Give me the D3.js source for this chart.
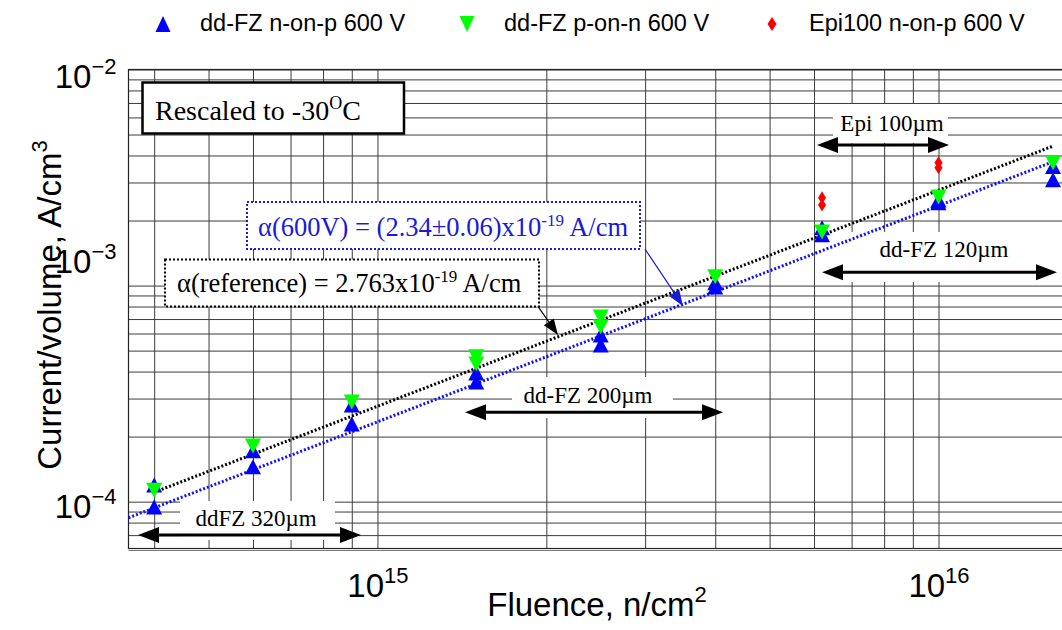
<!DOCTYPE html>
<html><head><meta charset="utf-8">
<script src="https://cdn.jsdelivr.net/npm/d3@7"></script>
<style>
html,body{margin:0;padding:0;background:#fff;}
svg{display:block;}
</style></head><body>
<svg id="chart" width="1062" height="630"></svg>
<script>
// ---------------- data ----------------
const seriesNames = ["dd-FZ n-on-p 600 V", "dd-FZ p-on-n 600 V", "Epi100 n-on-p 600 V"];

const nonpFluence = [4e14, 4e14, 6e14, 6e14, 9e14, 9e14, 1.5e15, 1.5e15, 2.5e15, 2.5e15, 4e15, 4e15, 6.2e15, 6.2e15, 1e16, 1e16, 1.6e16, 1.6e16];
const nonpCurrent = [1.195e-4, 9.45e-5, 1.72e-4, 1.45e-4, 2.80e-4, 2.29e-4, 3.94e-4, 3.58e-4, 5.91e-4, 5.31e-4, 1.03e-3, 9.86e-4, 1.85e-3, 1.72e-3, 2.49e-3, 2.42e-3, 3.56e-3, 3.09e-3];

const ponnFluence = [4e14, 6e14, 9e14, 1.5e15, 1.5e15, 2.5e15, 2.5e15, 4e15, 6.2e15, 1e16, 1.6e16];
const ponnCurrent = [1.13e-4, 1.81e-4, 2.89e-4, 4.68e-4, 4.34e-4, 7.16e-4, 6.44e-4, 1.10e-3, 1.77e-3, 2.57e-3, 3.70e-3];

const epiFluence = [6.2e15, 6.2e15, 1e16, 1e16];
const epiCurrent = [2.55e-3, 2.36e-3, 3.70e-3, 3.51e-3];

// fit lines: I/V = alpha * fluence
const alpha600 = 2.34e-19;
const alphaRef = 2.763e-19;
const fit600Range = [3.6e14, 1.6e16];
const fitRefRange = [4e14, 1.6e16];

const xTickValues = [1e15, 1e16];
const xTickExp = ["15", "16"];
const yTickValues = [1e-2, 1e-3, 1e-4];
const yTickExp = ["\u22122", "\u22123", "\u22124"];

const xDomain = [3.6e14, 1.66e16];
const yDomain = [6.07e-5, 1e-2];

// ---------------- layout ----------------
const W = 1062, H = 630;
const L = 128.5, R = 1062, T = 69.5, B = 548.5;
const SANS = "'Liberation Sans', Arial, Helvetica, sans-serif";
const SERIF = "'Liberation Serif', 'Times New Roman', serif";

const svg = d3.select("#chart");
const x = d3.scaleLog().domain(xDomain).range([L, R]);
const y = d3.scaleLog().domain(yDomain).range([B, T]);

// gridlines
const gridColor = "#3c3c3c";
const xGridVals = x.ticks().filter(v => v >= xDomain[0] && v <= xDomain[1]);
const yGridVals = y.ticks().filter(v => v >= yDomain[0] && v <= yDomain[1]);

const gx = svg.append("g").attr("transform", `translate(0,${B})`)
  .call(d3.axisBottom(x).tickValues(xGridVals).tickSize(-(B - T)).tickFormat(""));
gx.select(".domain").remove();
gx.selectAll(".tick line").attr("stroke", gridColor).attr("stroke-width", 1);

const gy = svg.append("g").attr("transform", `translate(${L},0)`)
  .call(d3.axisLeft(y).tickValues(yGridVals).tickSize(-(R - L)).tickFormat(""));
gy.select(".domain").remove();
gy.selectAll(".tick line").attr("stroke", gridColor).attr("stroke-width", 1);

// frame
svg.append("rect").attr("x", L).attr("y", T).attr("width", R - L + 5).attr("height", B - T)
  .attr("fill", "none").attr("stroke", "#222").attr("stroke-width", 1.2);
svg.append("line").attr("x1", L).attr("x2", R).attr("y1", B + 2).attr("y2", B + 2)
  .attr("stroke", "#777").attr("stroke-width", 1);

// white label backgrounds (cover grid)
const bgRects = [
  [833, 104, 115, 39],
  [836, 232, 222, 50],
  [512, 377, 161, 41],
  [180, 501, 155, 39]
];
svg.append("g").selectAll("rect").data(bgRects).join("rect")
  .attr("x", d => d[0]).attr("y", d => d[1]).attr("width", d => d[2]).attr("height", d => d[3])
  .attr("fill", "#fff");

// fit lines
const line = d3.line().x(d => x(d[0])).y(d => y(d[1]));
svg.append("path").datum(fitRefRange.map(f => [f, alphaRef * f]))
  .attr("d", line).attr("fill", "none").attr("stroke", "#000")
  .attr("stroke-width", 3).attr("stroke-dasharray", "2,2");
svg.append("path").datum(fit600Range.map(f => [f, alpha600 * f]))
  .attr("d", line).attr("fill", "none").attr("stroke", "#1010ff")
  .attr("stroke-width", 3).attr("stroke-dasharray", "2,2");

// markers
const triUp = (cx, cy, w, h) => `M${cx - w / 2},${cy + h / 2}L${cx + w / 2},${cy + h / 2}L${cx},${cy - h / 2}Z`;
const triDown = (cx, cy, w, h) => `M${cx - w / 2},${cy - h / 2}L${cx + w / 2},${cy - h / 2}L${cx},${cy + h / 2}Z`;
const diamond = (cx, cy, w, h) => `M${cx},${cy - h / 2}L${cx + w / 2},${cy}L${cx},${cy + h / 2}L${cx - w / 2},${cy}Z`;

svg.append("g").selectAll("path").data(d3.zip(nonpFluence, nonpCurrent)).join("path")
  .attr("d", d => triUp(x(d[0]), y(d[1]), 16, 15)).attr("fill", "#0000ff");
svg.append("g").selectAll("path").data(d3.zip(ponnFluence, ponnCurrent)).join("path")
  .attr("d", d => triDown(x(d[0]), y(d[1]), 16, 15)).attr("fill", "#00ff00");
svg.append("g").selectAll("path").data(d3.zip(epiFluence, epiCurrent)).join("path")
  .attr("d", d => diamond(x(d[0]), y(d[1]), 8, 13)).attr("fill", "#ff0000");

// double arrows
function dblArrow(x1, x2, yy) {
  const g = svg.append("g");
  const hl = 21, hw = 8;
  g.append("line").attr("x1", x1 + hl - 2).attr("x2", x2 - hl + 2).attr("y1", yy).attr("y2", yy)
    .attr("stroke", "#000").attr("stroke-width", 3);
  g.append("path").attr("d", `M${x1},${yy}L${x1 + hl},${yy - hw}L${x1 + hl},${yy + hw}Z`).attr("fill", "#000");
  g.append("path").attr("d", `M${x2},${yy}L${x2 - hl},${yy - hw}L${x2 - hl},${yy + hw}Z`).attr("fill", "#000");
}
dblArrow(817, 949, 145);
dblArrow(822, 1057, 272.3);
dblArrow(465, 723, 412.3);
dblArrow(138, 361, 535);

const regionLabels = [
  ["Epi 100\u00b5m", 892, 130.7],
  ["dd-FZ 120\u00b5m", 944, 256.7],
  ["dd-FZ 200\u00b5m", 588, 402.7],
  ["ddFZ 320\u00b5m", 256, 526]
];
svg.append("g").selectAll("text").data(regionLabels).join("text")
  .attr("x", d => d[1]).attr("y", d => d[2]).attr("text-anchor", "middle")
  .attr("font-family", SERIF).attr("font-size", 23).attr("fill", "#000").text(d => d[0]);

// "Rescaled" box
svg.append("rect").attr("x", 142.5).attr("y", 82.5).attr("width", 261.5).attr("height", 51)
  .attr("fill", "#fff").attr("stroke", "#000").attr("stroke-width", 2.5);
const rt = svg.append("text").attr("x", 155).attr("y", 120).attr("font-family", SERIF)
  .attr("font-size", 28).attr("fill", "#000");
rt.append("tspan").text("Rescaled to -30");
rt.append("tspan").attr("font-size", 18).attr("dy", -11).text("O");
rt.append("tspan").attr("dy", 11).text("C");

// alpha boxes
function alphaBox(bx, by, bw, bh, color, pre, sup, post, tx, ty) {
  svg.append("rect").attr("x", bx).attr("y", by).attr("width", bw).attr("height", bh)
    .attr("fill", "#fff").attr("stroke", color).attr("stroke-width", 2).attr("stroke-dasharray", "2,2");
  const t = svg.append("text").attr("x", tx).attr("y", ty).attr("font-family", SERIF)
    .attr("font-size", 26.5).attr("fill", color);
  t.append("tspan").text(pre);
  t.append("tspan").attr("font-size", 17).attr("dy", -10).text(sup);
  t.append("tspan").attr("dy", 10).text(post);
}
alphaBox(247, 202, 393, 47, "#1a1ad8", "\u03b1(600V) = (2.34\u00b10.06)x10", "-19", " A/cm", 258, 236);
alphaBox(165, 259.5, 374, 47, "#000", "\u03b1(reference) = 2.763x10", "-19", " A/cm", 177, 292);

// pointer arrows
function pointer(x1, y1, x2, y2, color) {
  const ang = Math.atan2(y2 - y1, x2 - x1);
  const hl = 16, hw = 6;
  const bx = x2 - hl * Math.cos(ang), by = y2 - hl * Math.sin(ang);
  svg.append("line").attr("x1", x1).attr("y1", y1).attr("x2", bx).attr("y2", by)
    .attr("stroke", color).attr("stroke-width", 1.2);
  const px = -Math.sin(ang) * hw, py = Math.cos(ang) * hw;
  svg.append("path").attr("d", `M${x2},${y2}L${bx + px},${by + py}L${bx - px},${by - py}Z`).attr("fill", color);
}
pointer(645, 249, 683, 306, "#1a1ad8");
pointer(538, 306.5, 558, 335, "#000");

// axes tick labels
const yAx = svg.append("g").attr("transform", `translate(${L},0)`)
  .call(d3.axisLeft(y).tickValues(yTickValues).tickSize(0).tickFormat(""));
yAx.select(".domain").remove();
const yLabelShift = [7, -24, 4.5];
yAx.selectAll(".tick").each(function (d, i) {
  const t = d3.select(this).append("text").attr("x", -12).attr("y", yLabelShift[i] + 11)
    .attr("text-anchor", "end").attr("font-family", SANS).attr("font-size", 33).attr("fill", "#000");
  t.append("tspan").text("10");
  t.append("tspan").attr("font-size", 22).attr("dy", -14).text(yTickExp[i]);
});

const xAx = svg.append("g").attr("transform", `translate(0,${B})`)
  .call(d3.axisBottom(x).tickValues(xTickValues).tickSize(0).tickFormat(""));
xAx.select(".domain").remove();
xAx.selectAll(".tick").each(function (d, i) {
  const t = d3.select(this).append("text").attr("x", 0).attr("y", 48)
    .attr("text-anchor", "middle").attr("font-family", SANS).attr("font-size", 33).attr("fill", "#000");
  t.append("tspan").text("10");
  t.append("tspan").attr("font-size", 22).attr("dy", -14).text(xTickExp[i]);
});

// axis titles
const xt = svg.append("text").attr("x", 597).attr("y", 616).attr("text-anchor", "middle")
  .attr("font-family", SANS).attr("font-size", 33).attr("fill", "#000");
xt.append("tspan").text("Fluence, n/cm");
xt.append("tspan").attr("font-size", 22).attr("dy", -14).text("2");

const ytl = svg.append("text").attr("transform", "translate(61,305) rotate(-90)").attr("text-anchor", "middle")
  .attr("font-family", SANS).attr("font-size", 33).attr("fill", "#000");
ytl.append("tspan").text("Current/volume, A/cm");
ytl.append("tspan").attr("font-size", 22).attr("dy", -14).text("3");

// legend
const legendX = [163, 467, 772];
const legendColors = ["#0000ff", "#00ff00", "#ff0000"];
const lg = svg.append("g");
seriesNames.forEach((name, i) => {
  const cx = legendX[i], cy = 24;
  const d = i === 0 ? triUp(cx, cy, 15, 16) : i === 1 ? triDown(cx, cy, 15, 16) : diamond(cx, cy, 9, 14);
  lg.append("path").attr("d", d).attr("fill", legendColors[i]);
  lg.append("text").attr("x", cx + 37).attr("y", 31).attr("font-family", SANS)
    .attr("font-size", 23.5).attr("fill", "#000").text(name);
});
</script>
</body></html>
